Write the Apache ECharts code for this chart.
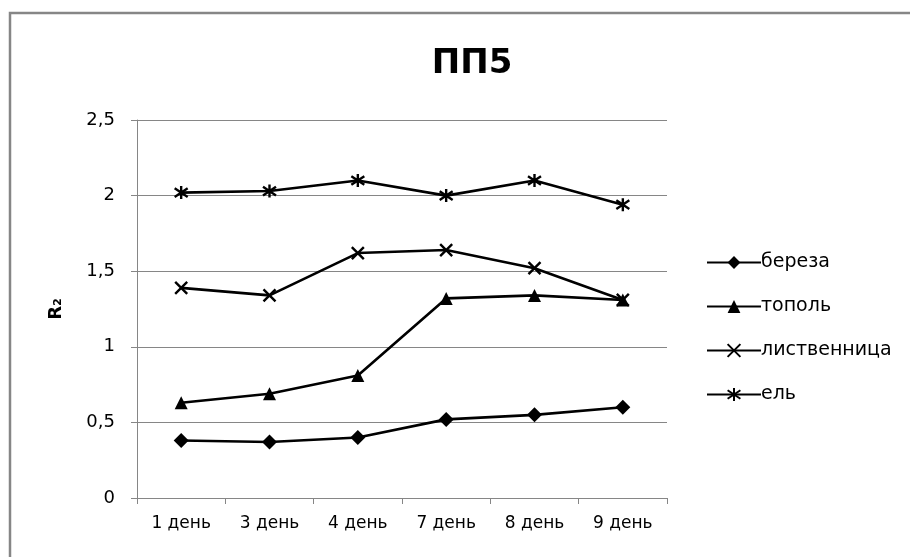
<!DOCTYPE html>
<html><head><meta charset="utf-8">
<script src="https://cdn.jsdelivr.net/npm/echarts@6/dist/echarts.min.js"></script>
<style>html,body{margin:0;padding:0;background:#fff}#c{width:910px;height:557px}</style>
</head><body><div id="c"></div>
<script>
const categories = ['1 день','3 день','4 день','7 день','8 день','9 день'];
const bereza = [0.38,0.37,0.40,0.52,0.55,0.60];
const topol = [0.63,0.69,0.81,1.32,1.34,1.31];
const listvennitsa = [1.39,1.34,1.62,1.64,1.52,1.31];
const el = [2.02,2.03,2.10,2.00,2.10,1.94];
const yTicks = {min:0,max:2.5,interval:0.5};

const font = '"DejaVu Sans", "Open Sans", sans-serif';
const xPath = 'path://M0,0L10,10M10,0L0,10';
const starPath = 'path://M0,1L10,9M10,1L0,9M5,-1L5,11';
function mk(name, data, symbol, size, fill) {
  return {
    name, type:'line', data, symbol, symbolSize:size,
    lineStyle:{color:'#000',width:2.6},
    itemStyle:{color: fill ? '#000' : 'none', borderColor:'#000', borderWidth: fill ? 0 : 2.4},
    emphasis:{disabled:true}, animation:false
  };
}
const chart = echarts.init(document.getElementById('c'));
chart.setOption({
  backgroundColor:'#fff',
  animation:false,
  graphic:[{type:'rect',shape:{x:10,y:13,width:1000,height:700},style:{fill:'none',stroke:'#868686',lineWidth:2.5},silent:true}],
  title:{text:'ПП5',left:467,top:42,textAlign:'center',textStyle:{fontFamily:font,fontSize:34,fontWeight:'bold',color:'#000'}},
  legend:{orient:'vertical',left:701,top:248,itemWidth:54,itemHeight:16,itemGap:25,
    textStyle:{fontFamily:font,fontSize:19,color:'#000',padding:[0,0,0,-5]},
    data:['береза','тополь','лиственница','ель']},
  grid:{left:137,right:243,top:120,bottom:59,containLabel:false},
  xAxis:{type:'category',data:categories,boundaryGap:true,
    axisLine:{lineStyle:{color:'#868686',width:1}},
    axisTick:{show:true,length:6,lineStyle:{color:'#868686'}},
    axisLabel:{fontFamily:font,fontSize:17,color:'#000',margin:17}},
  yAxis:{type:'value',min:yTicks.min,max:yTicks.max,interval:yTicks.interval,
    name:'R₂',nameLocation:'middle',nameRotate:90,nameGap:72,
    nameTextStyle:{fontFamily:font,fontSize:18,fontWeight:'bold',color:'#000'},
    axisLine:{show:true,lineStyle:{color:'#868686'}},
    axisTick:{show:true,length:6,lineStyle:{color:'#868686'}},
    splitLine:{lineStyle:{color:'#868686',width:1}},
    axisLabel:{fontFamily:font,fontSize:18,color:'#000',margin:22,formatter:v=>String(v).replace('.',',')}},
  series:[
    mk('береза',bereza,'diamond',15,true),
    mk('тополь',topol,'triangle',13,true),
    mk('лиственница',listvennitsa,xPath,12,false),
    mk('ель',el,starPath,13,false)
  ]
});
</script></body></html>
